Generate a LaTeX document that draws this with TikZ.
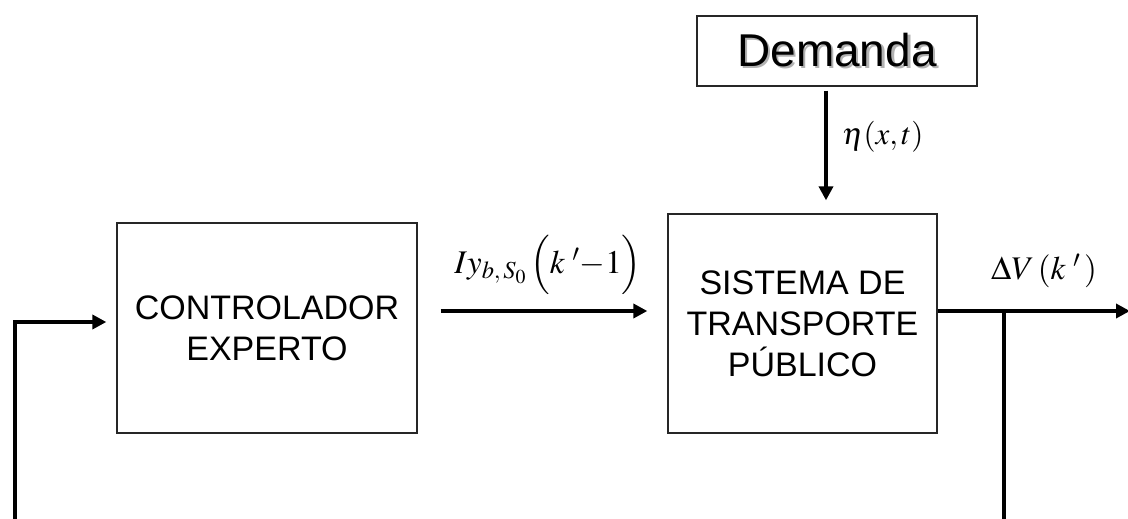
\documentclass[tikz,border=0pt]{standalone}
\usepackage{mathptmx}
\usepackage[no-math]{fontspec}
\setmainfont{Liberation Sans}
\usetikzlibrary{arrows.meta}
\tikzset{
  blockbox/.style={draw=black!85, line width=1.3pt, fill=white, align=center, inner sep=0pt},
  arr/.style={line width=4pt, -{Triangle[length=14pt,width=14pt]}},
  wire/.style={line width=4pt},
  blocktext/.style={font=\fontsize{34}{41}\selectfont},
  mathlbl/.style={inner sep=0pt}
}
% text with a soft grey drop shadow
\newcommand\shadowed[1]{\makebox[0pt][l]{\hspace{2.5pt}\raisebox{-2.5pt}{\textcolor{black!30}{#1}}}#1}
\begin{document}
\begin{tikzpicture}[x=1pt,y=-1pt]
  \useasboundingbox (0,0) rectangle (1128,519);

  % blocks
  \node[blockbox, blocktext, minimum width=300pt, minimum height=210pt] (ctrl) at (267,328) {CONTROLADOR\\EXPERTO};
  \node[blockbox, blocktext, minimum width=269pt, minimum height=219pt] (sys) at (802.5,323.5) {SISTEMA DE\\TRANSPORTE\\PÚBLICO};
  \node[blockbox, minimum width=280pt, minimum height=70pt, font=\fontsize{46}{50}\selectfont] (dem) at (837,51) {\shadowed{Demanda}};

  % helper coordinates
  \coordinate (dx) at (826,0);
  \coordinate (my) at (0,311);
  \coordinate (fy) at (0,322);
  \coordinate (jn) at (1004,311);
  \coordinate (outend) at (1130,311);
  \coordinate (jbot) at (1004,521);
  \coordinate (lbot) at (15,521);
  \coordinate (lcorner) at (15,322);

  % disturbance input
  \draw[arr, shorten <=4pt, shorten >=13pt] (dem.south -| dx) -- (sys.north -| dx);
  \node[mathlbl, anchor=west, font=\fontsize{31}{35}\selectfont] (eta) at (842,137) {$\eta(x,t)$};

  % control signal
  \draw[arr, shorten <=23pt, shorten >=20pt] (ctrl.east |- my) -- (sys.west |- my);
  \node[mathlbl, font=\fontsize{33}{38}\selectfont] (ctrllbl) at (548,265) {$Iy_{b,\,S_0}\,\Bigl(k\;'{-}1\Bigr)$};

  % output and feedback
  \draw[arr] (sys.east |- my) -- (outend);
  \node[mathlbl, font=\fontsize{33}{37}\selectfont] (outlbl) at (1044,271) {$\Delta V\,(k\;'\,)$};
  \draw[wire] (jn) -- (jbot);
  \draw[arr, shorten >=10pt] (lbot) -- (lcorner) -- (ctrl.west |- fy);
\end{tikzpicture}
\end{document}
